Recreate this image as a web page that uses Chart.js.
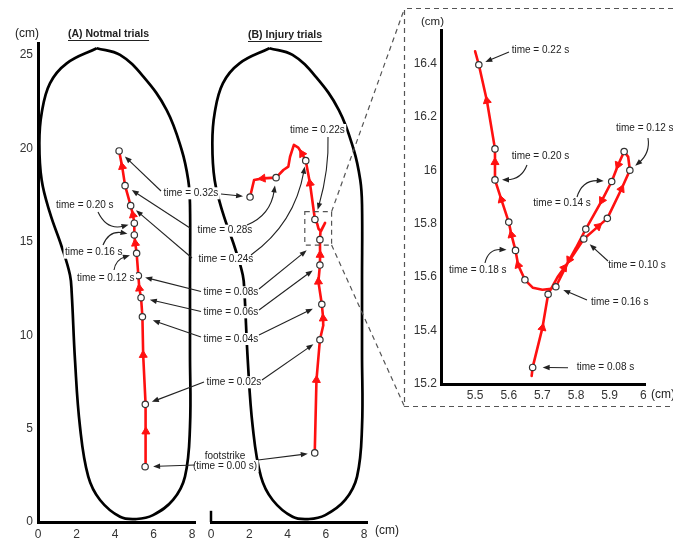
<!DOCTYPE html>
<html>
<head>
<meta charset="utf-8">
<script src="https://cdn.jsdelivr.net/npm/chart.js@4.4.1/dist/chart.umd.min.js"></script>
<style>
html,body{margin:0;padding:0;background:#fff;}
#wrap{position:relative;width:673px;height:540px;overflow:hidden;background:#fff;}
canvas{position:absolute;left:0;top:0;}
</style>
</head>
<body>
<div id="wrap">
<canvas id="cA" width="673" height="540"></canvas>
<canvas id="cB" width="673" height="540"></canvas>
<canvas id="cC" width="673" height="540"></canvas>
</div>
<script>
// ---------------- DATA ----------------
// Foot (insole) outline, cm
const footX = [3.05, 4.26, 5.47, 6.68, 7.46, 7.80, 7.89, 7.89, 7.89, 7.89, 7.63, 7.01, 5.97, 5.12, 4.26, 3.22, 2.61, 2.18, 1.92, 1.75, 1.66, 1.23, 0.62, 0.19, 0.07, 0.19, 0.62, 1.49, 3.05];
const footY = [25.37, 25.01, 23.85, 22.06, 19.92, 18.30, 17.00, 12.96, 9.00, 5.10, 2.43, 1.18, 0.37, 0.16, 0.28, 1.18, 2.43, 5.10, 8.68, 12.26, 13.23, 14.74, 16.55, 18.31, 20.28, 21.89, 23.49, 24.56, 25.37];

// (A) Normal trials: centre-of-pressure path
const normalX = [5.56, 5.60, 5.57, 5.46, 5.42, 5.35, 5.26, 5.21, 5.12, 5.05, 5.00, 5.00, 4.93, 4.81, 4.52, 4.37, 4.21];
const normalY = [2.96, 4.84, 6.30, 8.94, 10.99, 12.01, 12.51, 13.19, 14.39, 14.92, 15.37, 16.00, 16.44, 16.94, 18.01, 19.03, 19.87];
const normalMarkIdx = [0, 2, 4, 5, 7, 8, 10, 11, 13, 14, 16];
const normalTimes = [0, 0.02, 0.04, 0.06, 0.08, 0.12, 0.16, 0.20, 0.24, 0.28, 0.32];
const normalArrowIdx = [1, 3, 6, 9, 12, 15];

// (B) Injury trials
const injuryX = [5.42, 5.51, 5.69, 5.87, 5.86, 5.79, 5.61, 5.69, 5.70, 5.69, 5.72, 5.96, 5.74, 5.62, 5.55, 5.43, 5.17, 4.95, 4.76, 4.56, 4.33, 4.13, 4.04, 3.78, 3.40, 2.70, 2.25, 2.04];
const injuryY = [3.70, 7.60, 9.76, 10.55, 10.90, 11.66, 12.87, 13.76, 14.30, 15.12, 15.55, 16.02, 15.56, 15.70, 15.96, 16.20, 18.14, 19.35, 19.72, 20.05, 20.19, 19.56, 19.03, 18.85, 18.44, 18.40, 18.31, 17.40];
const injuryMarkIdx = [0, 2, 5, 7, 9, 15, 17, 24, 27];
const injuryTimes = [0, 0.02, 0.04, 0.06, 0.08, 0.22, 0.24, 0.28, 0.32];
const injuryArrowIdx = [1, 4, 6, 8, 16, 18, 25];

// Zoomed injury path (inset)
const zoomX = [5.668, 5.671, 5.700, 5.717, 5.745, 5.765, 5.790, 5.823, 5.866, 5.893, 5.935, 5.960, 5.955, 5.943, 5.925, 5.906, 5.877, 5.829, 5.800, 5.780, 5.740, 5.720, 5.700, 5.672, 5.648, 5.628, 5.620, 5.608, 5.600, 5.578, 5.559, 5.559, 5.559, 5.535, 5.511, 5.500];
const zoomY = [15.230, 15.262, 15.410, 15.536, 15.600, 15.635, 15.680, 15.743, 15.790, 15.820, 15.930, 16.000, 16.050, 16.070, 16.020, 15.958, 15.887, 15.780, 15.710, 15.665, 15.564, 15.555, 15.553, 15.560, 15.590, 15.645, 15.700, 15.758, 15.806, 15.890, 15.964, 16.030, 16.080, 16.260, 16.395, 16.445];
const zoomMarkIdx = [1, 3, 7, 9, 11, 13, 15, 17, 20, 24, 26, 28, 30, 32, 34];
const zoomTimes = [0.08, 0.09, 0.10, 0.11, 0.12, 0.13, 0.14, 0.15, 0.16, 0.17, 0.18, 0.19, 0.20, 0.21, 0.22];
const zoomArrowIdx = [2, 5, 8, 10, 14, 16, 19, 25, 27, 29, 31, 33];

// Ticks
const mainXTicks = [0, 2, 4, 6, 8];
const mainYTicks = [0, 5, 10, 15, 20, 25];
const zoomXTicks = [5.5, 5.6, 5.7, 5.8, 5.9, 6];
const zoomYTicks = [15.2, 15.4, 15.6, 15.8, 16, 16.2, 16.4];

// zoom window drawn on panel B (cm)
const zoomBoxX = [4.9, 6.3];
const zoomBoxY = [14.83, 16.62];

// ---------------- HELPERS ----------------
const FONT = '"Liberation Sans", Arial, Helvetica, sans-serif';
const RED = '#ff1010';
const INK = '#222';

function pts(xs, ys) { return xs.map((x, i) => ({ x: x, y: ys[i] })); }
function pick(xs, ys, idx) { return idx.map(i => ({ x: xs[i], y: ys[i] })); }
function arrowRotation(xs, ys, idx) {
  return ctx => {
    const c = ctx.chart, sx = c.scales.x, sy = c.scales.y;
    const i = idx[ctx.dataIndex];
    if (i === undefined) return 0;
    const a = Math.max(i - 1, 0), b = Math.min(i + 1, xs.length - 1);
    const dx = sx.getPixelForValue(xs[b]) - sx.getPixelForValue(xs[a]);
    const dy = sy.getPixelForValue(ys[b]) - sy.getPixelForValue(ys[a]);
    return Math.atan2(dx, -dy) * 180 / Math.PI;
  };
}
function panelDatasets(xs, ys, markIdx, arrowIdx, withFoot, lw) {
  const ds = [
    { data: pick(xs, ys, markIdx), showLine: false, pointRadius: 3.2, pointBackgroundColor: '#fff',
      pointBorderColor: '#333', pointBorderWidth: 1.2 },
    { data: pick(xs, ys, arrowIdx), showLine: false, pointStyle: 'triangle', pointRadius: 4.6,
      pointBackgroundColor: RED, pointBorderColor: RED, pointBorderWidth: 1,
      pointRotation: arrowRotation(xs, ys, arrowIdx) },
    { data: pts(xs, ys), showLine: true, borderColor: RED, borderWidth: lw, pointRadius: 0, tension: 0,
      borderJoinStyle: 'round', borderCapStyle: 'round' }
  ];
  if (withFoot) {
    ds.push({ data: pts(footX, footY), showLine: true, borderColor: '#000', borderWidth: 2.7, pointRadius: 0,
      tension: 0.4, borderJoinStyle: 'round' });
  }
  ds.forEach(d => { d.clip = false; });
  return ds;
}
function axis(min, max, ticks, size, pad, display) {
  return {
    type: 'linear', min: min, max: max, display: display,
    grid: { display: false, drawTicks: false },
    border: { display: true, color: '#000', width: 3 },
    ticks: { color: '#333', font: { family: FONT, size: 12 }, padding: pad, maxRotation: 0, minRotation: 0,
      autoSkip: false, callback: v => String(v) },
    afterBuildTicks: s => { s.ticks = ticks.map(v => ({ value: v })); },
    afterFit: s => { if (s.isHorizontal()) s.height = size; else s.width = size; }
  };
}
function makeChart(id, datasets, xAxis, yAxis, padding, plugins) {
  return new Chart(document.getElementById(id), {
    type: 'scatter',
    data: { datasets: datasets },
    options: {
      responsive: false, animation: false, devicePixelRatio: 1, events: [],
      layout: { padding: padding },
      plugins: { legend: { display: false }, tooltip: { enabled: false } },
      scales: { x: xAxis, y: yAxis }
    },
    plugins: plugins || []
  });
}

// ---------------- ANNOTATIONS ----------------
const notes = [
  { text: 'time = 0.20 s', x: 56, y: 205, arrows: [{ from: [98, 212], to: ['A', 0.20], bend: 12, gap: 6 }] },
  { text: 'time = 0.16 s', x: 65, y: 252.7, arrows: [{ from: [103, 245], to: ['A', 0.16], bend: -9, gap: 7 }] },
  { text: 'time = 0.12 s', x: 77, y: 278.3, arrows: [{ from: [114, 270], to: ['A', 0.12], bend: -5, gap: 7 }] },
  { text: 'time = 0.32s', x: 163.5, y: 193.3, arrows: [{ from: [161, 191], to: ['A', 0.32], gap: 8 }, { from: [221, 194], to: ['B', 0.32], gap: 7 }] },
  { text: 'time = 0.28s', x: 197.5, y: 230.7, arrows: [{ from: [190, 228], to: ['A', 0.28], gap: 8 }, { from: [247, 225], to: ['B', 0.28], bend: 12, gap: 8 }] },
  { text: 'time = 0.24s', x: 198.5, y: 259, arrows: [{ from: [192, 258], to: ['A', 0.24], gap: 7 }, { from: [251, 255], to: ['B', 0.24], bend: 20, gap: 6 }] },
  { text: 'time = 0.08s', x: 203.5, y: 292.3, arrows: [{ from: [201, 291.5], to: ['A', 0.08], gap: 7 }, { from: [259, 289], to: ['B', 0.08], gap: 17 }] },
  { text: 'time = 0.06s', x: 203.5, y: 312.3, arrows: [{ from: [201, 311.5], to: ['A', 0.06], gap: 9 }, { from: [259, 310], to: ['B', 0.06], gap: 9 }] },
  { text: 'time = 0.04s', x: 203.5, y: 339, arrows: [{ from: [201, 337], to: ['A', 0.04], gap: 11 }, { from: [259, 335], to: ['B', 0.04], gap: 10 }] },
  { text: 'time = 0.02s', x: 206.5, y: 382.3, arrows: [{ from: [204, 382], to: ['A', 0.02], gap: 7 }, { from: [262, 380], to: ['B', 0.02], gap: 8 }] },
  { text: ['footstrike', '(time = 0.00 s)'], x: 225, y: [456, 466], align: 'center',
    arrows: [{ from: [195, 465], to: ['A', 0], gap: 8 }, { from: [258, 460], to: ['B', 0], gap: 7 }] },
  { text: 'time = 0.22s', x: 290, y: 130, arrows: [{ from: [328, 137], to: ['B', 0.22], bend: -5, gap: 10 }] },
  { text: 'time = 0.22 s', x: 511.7, y: 50.7, arrows: [{ from: [509, 52], to: ['C', 0.22], gap: 7 }] },
  { text: 'time = 0.20 s', x: 511.7, y: 156.7, arrows: [{ from: [527, 165], to: ['C', 0.20], bend: -8, gap: 7 }] },
  { text: 'time = 0.12 s', x: 616, y: 128.3, arrows: [{ from: [648, 138], to: ['C', 0.12], bend: -7, gap: 7 }] },
  { text: 'time = 0.14 s', x: 533.3, y: 203.3, arrows: [{ from: [577, 197], to: ['C', 0.14], bend: -10, gap: 8 }] },
  { text: 'time = 0.18 s', x: 449, y: 270.7, arrows: [{ from: [485, 263], to: ['C', 0.18], bend: -8, gap: 9 }] },
  { text: 'time = 0.10 s', x: 608.3, y: 265.7, arrows: [{ from: [608, 261], to: ['C', 0.10], gap: 8 }] },
  { text: 'time = 0.16 s', x: 591, y: 302.7, arrows: [{ from: [587, 300], to: ['C', 0.16], gap: 8 }] },
  { text: 'time = 0.08 s', x: 576.7, y: 367.7, arrows: [{ from: [568, 367.7], to: ['C', 0.08], gap: 10 }] }
];

const charts = {};
const panels = {
  A: { xs: normalX, ys: normalY, idx: normalMarkIdx, times: normalTimes },
  B: { xs: injuryX, ys: injuryY, idx: injuryMarkIdx, times: injuryTimes },
  C: { xs: zoomX, ys: zoomY, idx: zoomMarkIdx, times: zoomTimes }
};
function markPixel(key, t) {
  const p = panels[key], c = charts[key];
  const k = p.times.indexOf(t);
  const i = p.idx[k];
  return [c.scales.x.getPixelForValue(p.xs[i]), c.scales.y.getPixelForValue(p.ys[i])];
}
function drawArrow(ctx, from, to, gap, bend) {
  const x0 = from[0], y0 = from[1];
  let x1 = to[0], y1 = to[1];
  const dx = x1 - x0, dy = y1 - y0, L = Math.hypot(dx, dy);
  const b = bend || 0;
  const cx = (x0 + x1) / 2 + (-dy / L) * b, cy = (y0 + y1) / 2 + (dx / L) * b;
  let tx = x1 - cx, ty = y1 - cy; const tl = Math.hypot(tx, ty); tx /= tl; ty /= tl;
  x1 -= tx * gap; y1 -= ty * gap;
  const hl = 7, hw = 2.7;
  ctx.beginPath();
  ctx.moveTo(x0, y0);
  ctx.quadraticCurveTo(cx - tx * gap, cy - ty * gap, x1 - tx * hl * 0.7, y1 - ty * hl * 0.7);
  ctx.stroke();
  ctx.beginPath();
  ctx.moveTo(x1, y1);
  ctx.lineTo(x1 - tx * hl - ty * hw, y1 - ty * hl + tx * hw);
  ctx.lineTo(x1 - tx * hl + ty * hw, y1 - ty * hl - tx * hw);
  ctx.closePath();
  ctx.fill();
}
function drawLabel(ctx, text, x, y, align) {
  ctx.font = '10px ' + FONT;
  const w = ctx.measureText(text).width;
  const left = align === 'center' ? x - w / 2 : x;
  ctx.fillStyle = '#fff';
  ctx.fillRect(left - 1.5, y - 6, w + 3, 12);
  ctx.fillStyle = INK;
  ctx.textAlign = 'left';
  ctx.textBaseline = 'middle';
  ctx.fillText(text, left, y);
}
function drawText(ctx, text, x, y, font, underline) {
  ctx.font = font;
  ctx.fillStyle = INK;
  ctx.textAlign = 'left';
  ctx.textBaseline = 'middle';
  ctx.fillText(text, x, y);
  if (underline) {
    const w = ctx.measureText(text).width;
    ctx.strokeStyle = INK; ctx.lineWidth = 1;
    ctx.beginPath(); ctx.moveTo(x, y + 6.5); ctx.lineTo(x + w, y + 6.5); ctx.stroke();
  }
}

const overlay = {
  id: 'overlay',
  afterDraw(chart) {
    charts.C = chart;
    const ctx = chart.ctx;
    ctx.save();
    // dashed zoom frame and connectors
    const B = charts.B;
    ctx.setLineDash([5, 4]);
    ctx.strokeStyle = '#555';
    ctx.lineWidth = 1.2;
    ctx.beginPath();
    ctx.moveTo(700, 8.5); ctx.lineTo(404.5, 8.5); ctx.lineTo(404.5, 406.5); ctx.lineTo(700, 406.5);
    ctx.stroke();
    const bx0 = B.scales.x.getPixelForValue(zoomBoxX[0]), bx1 = B.scales.x.getPixelForValue(zoomBoxX[1]);
    const by0 = B.scales.y.getPixelForValue(zoomBoxY[1]), by1 = B.scales.y.getPixelForValue(zoomBoxY[0]);
    ctx.strokeRect(bx0, by0, bx1 - bx0, by1 - by0);
    ctx.beginPath();
    ctx.moveTo(bx1, by0); ctx.lineTo(404.5, 8.5);
    ctx.moveTo(bx1, by1); ctx.lineTo(404.5, 406.5);
    ctx.stroke();
    ctx.setLineDash([]);
    // short stub of panel B's vertical axis
    ctx.strokeStyle = '#000'; ctx.lineWidth = 2.5;
    ctx.beginPath();
    ctx.moveTo(B.scales.x.getPixelForValue(0), B.scales.y.getPixelForValue(0));
    ctx.lineTo(B.scales.x.getPixelForValue(0), B.scales.y.getPixelForValue(0.6));
    ctx.stroke();
    // titles and units
    drawText(ctx, '(A) Notmal trials', 68, 34, 'bold 10.5px ' + FONT, true);
    drawText(ctx, '(B) Injury trials', 248, 35, 'bold 10.5px ' + FONT, true);
    drawText(ctx, '(cm)', 15, 34, '12px ' + FONT, false);
    drawText(ctx, '(cm)', 375, 531, '12px ' + FONT, false);
    drawText(ctx, '(cm)', 421, 22, '11.5px ' + FONT, false);
    drawText(ctx, '(cm)', 651, 395, '12px ' + FONT, false);
    // labels
    notes.forEach(n => {
      if (Array.isArray(n.text)) n.text.forEach((t, i) => drawLabel(ctx, t, n.x, n.y[i], n.align));
      else drawLabel(ctx, n.text, n.x, n.y, n.align);
    });
    // arrows
    ctx.strokeStyle = INK; ctx.fillStyle = INK; ctx.lineWidth = 1.1;
    notes.forEach(n => n.arrows.forEach(a => {
      drawArrow(ctx, a.from, markPixel(a.to[0], a.to[1]), a.gap, a.bend);
    }));
    ctx.restore();
  }
};

// ---------------- CHARTS ----------------
charts.A = makeChart('cA',
  panelDatasets(normalX, normalY, normalMarkIdx, normalArrowIdx, true, 2.6),
  axis(0, 8.15, mainXTicks, 18, 5, true),
  axis(0, 25.65, mainYTicks, 38, 5, true),
  { left: 0, top: 43, right: 478, bottom: 0 });

charts.B = makeChart('cB',
  panelDatasets(injuryX, injuryY, injuryMarkIdx, injuryArrowIdx, true, 2.6),
  axis(0, 8.15, mainXTicks, 18, 5, true),
  axis(0, 25.65, mainYTicks, 0, 5, false),
  { left: 211, top: 43, right: 306, bottom: 0 });

charts.C = makeChart('cC',
  panelDatasets(zoomX, zoomY, zoomMarkIdx, zoomArrowIdx, false, 2.6),
  axis(5.4, 6.005, zoomXTicks, 156, 4, true),
  axis(15.2, 16.525, zoomYTicks, 441.5, 4.5, true),
  { left: 0, top: 30, right: 28, bottom: 0 },
  [overlay]);
</script>
</body>
</html>
